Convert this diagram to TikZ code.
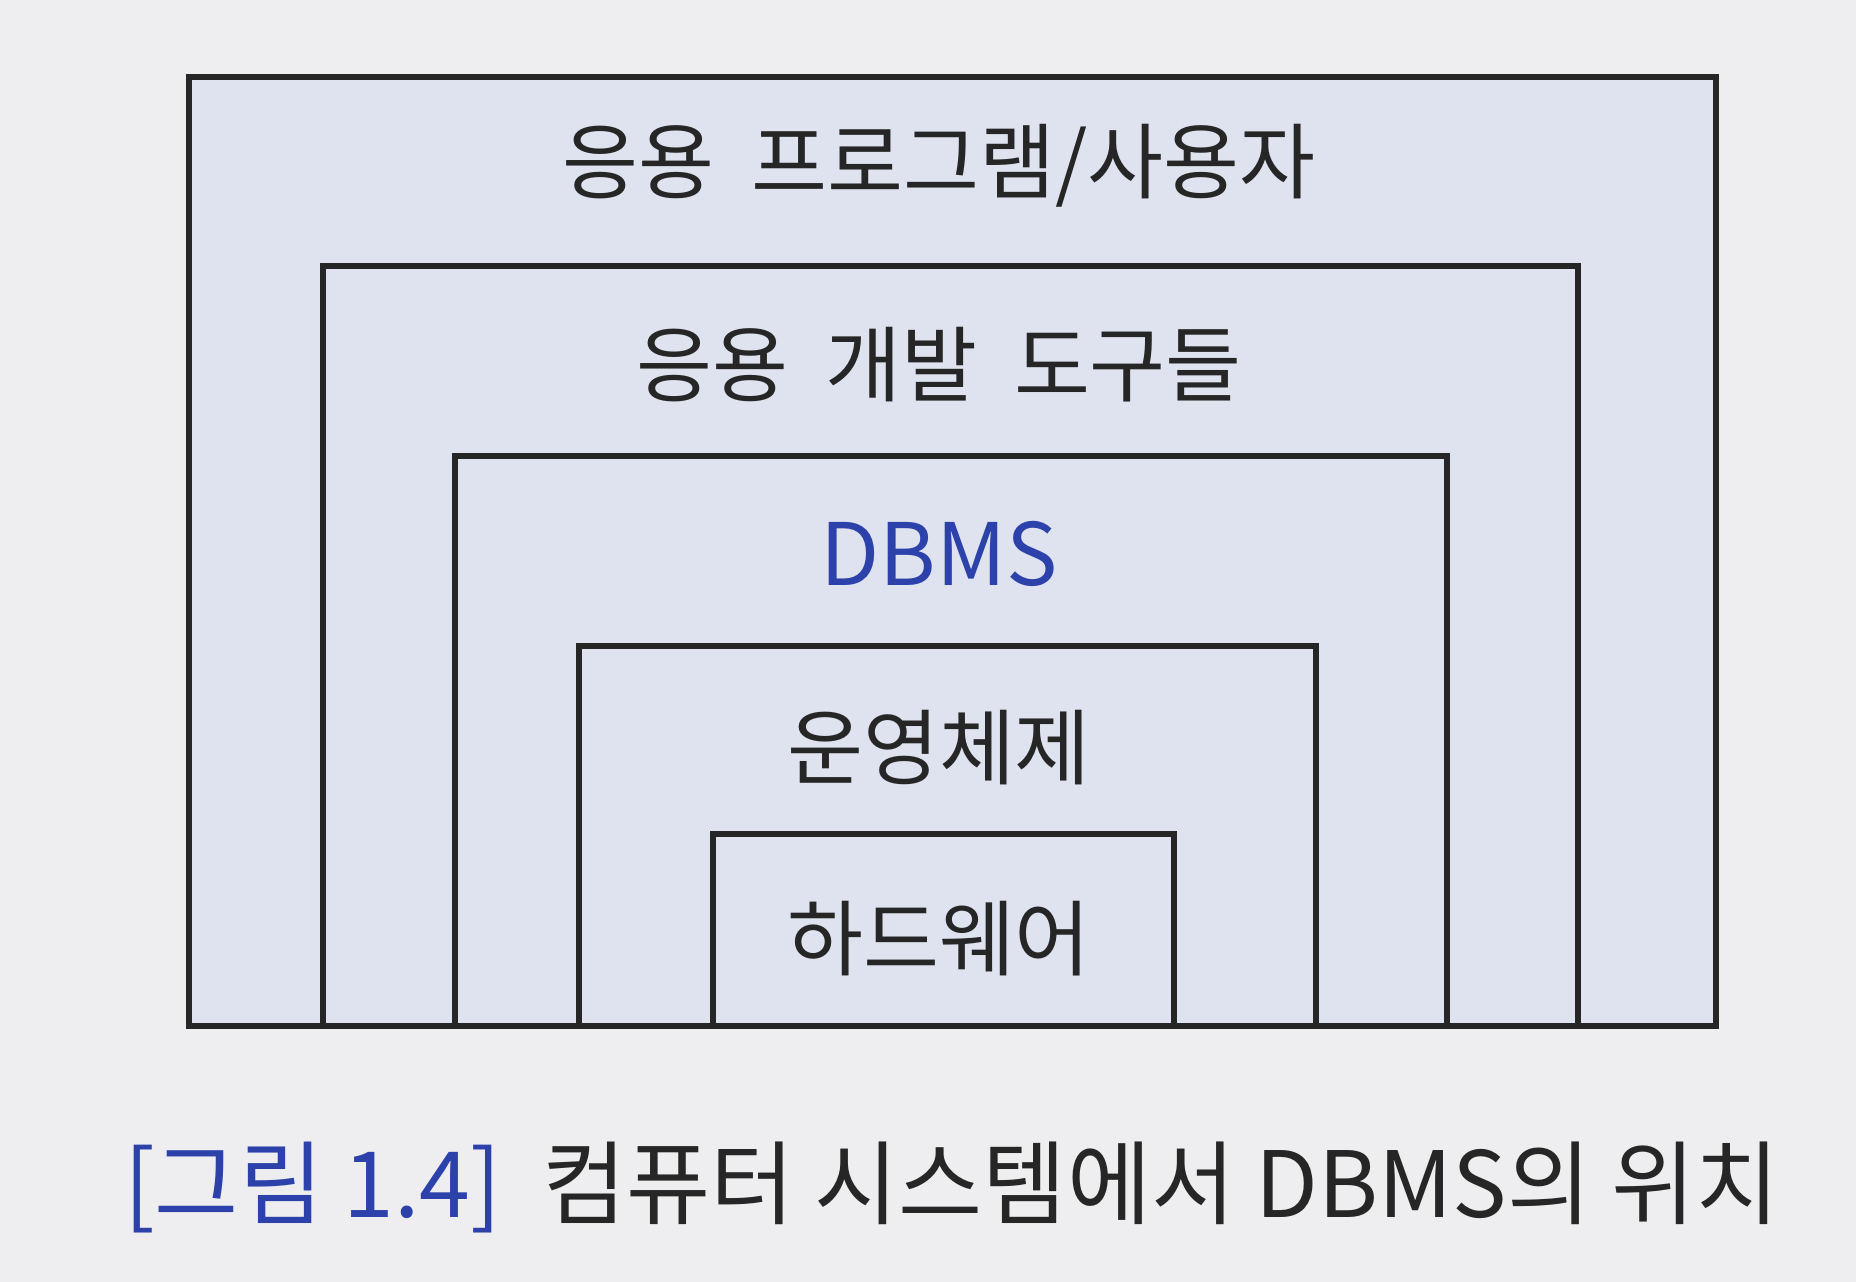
\documentclass[tikz,border=0pt]{standalone}
\usepackage{fontspec}
\setmainfont{Noto Sans CJK KR}
\usepackage{xcolor}
\usetikzlibrary{positioning,calc}
\tikzset{
  layer/.style  ={draw=black!85, line width=1.7pt, fill=layerfill},
  lbl/.style    ={font=\fontsize{23.5}{28}\selectfont, inner sep=0pt, text=black!85},
  dblbl/.style  ={lbl, font=\fontsize{24.5}{29}\selectfont, text=dbblue},
  caplbl/.style ={font=\fontsize{26}{31}\selectfont, inner sep=0pt, text=black!85},
}
\definecolor{pagegray} {RGB}{238,238,240}
\definecolor{layerfill}{RGB}{222,227,239}
\definecolor{dbblue}   {RGB}{44,66,170}

\begin{document}
\begin{tikzpicture}
  \fill[pagegray] (0,0) rectangle (18.56,12.82);
  \useasboundingbox (0,0) rectangle (18.56,12.82);
  % nested layers, outer to inner
  \draw[layer] (1.89,2.56) rectangle (17.16,12.05);
  \draw[layer] (3.23,2.56) rectangle (15.78,10.16);
  \draw[layer] (4.55,2.56) rectangle (14.47,8.26);
  \draw[layer] (5.79,2.56) rectangle (13.16,6.36);
  \draw[layer] (7.13,2.56) rectangle (11.74,4.48);
  \node[lbl]   (app)  at (9.39,11.16) {응용\ \ 프로그램/사용자};
  \node[lbl]   (dev)  at (9.39,9.17)  {응용\ \ 개발\ \ 도구들};
  \node[dblbl] (dbms) at (9.39,7.28)  {DBMS};
  \node[lbl]   (os)   at (9.39,5.34)  {운영체제};
  \node[lbl]   (hw)   at (9.39,3.43)  {하드웨어};
  \node[caplbl] (cap) at (9.52,0.95)
    {\textcolor{dbblue}{[그림 1.4]}\ \ 컴퓨터 시스템에서 DBMS의 위치};
\end{tikzpicture}
\end{document}
